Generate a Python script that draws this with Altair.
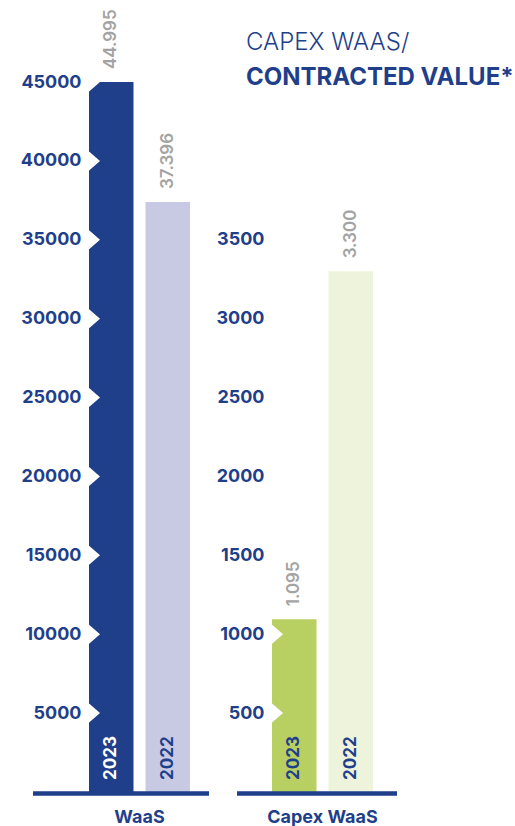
import altair as alt
import pandas as pd

# ---- data -------------------------------------------------------------
years = ["2023", "2022"]
waas_values = [44995, 37396]
capex_values = [1095, 3300]
waas_ticks = [5000, 10000, 15000, 20000, 25000, 30000, 35000, 40000, 45000]
capex_ticks = [500, 1000, 1500, 2000, 2500, 3000, 3500]
panel_titles = ["WaaS", "Capex WaaS"]
title_lines = ["CAPEX WAAS/", "CONTRACTED VALUE*"]

# ---- style ------------------------------------------------------------
NAVY = "#1f3f8b"
LAVENDER = "#c8cae4"
GREEN = "#b8cf62"
PALE_GREEN = "#eef3dc"
GRAY = "#a3a3a3"
FONT = "Inter"

W, H = 101, 710

ALL_KEYS = [f"{p} {y}" for p in panel_titles for y in years]
COLOR_SCALE = alt.Scale(domain=ALL_KEYS, range=[NAVY, LAVENDER, GREEN, PALE_GREEN])


def fmt(v):
    return f"{v:,}".replace(",", ".")


def panel(name, values, ticks, dmax, base_x1, base_x2, extra=None):
    df = pd.DataFrame({
        "year": years,
        "value": values,
        "key": [f"{name} {y}" for y in years],
        "label": [fmt(v) for v in values],
    })
    v23 = values[0]
    notch_df = pd.DataFrame({
        "year": "2023",
        "value": [t for t in ticks if t <= v23 + 0.012 * dmax],
    })
    xsc = alt.Scale(domain=years, paddingInner=0.2124, paddingOuter=0)
    ysc = alt.Scale(domain=[0, dmax], nice=False, zero=True)
    x = alt.X("year:N", scale=xsc, axis=None)

    bars = alt.Chart(df).mark_bar().encode(
        x=x,
        y=alt.Y("value:Q", scale=ysc, title=None,
                axis=alt.Axis(values=ticks, ticks=False, domain=False, grid=False,
                              labelColor=NAVY, labelFont=FONT, labelFontSize=18,
                              labelFontWeight="bold", labelPadding=8,
                              labelOverlap=False, format="d")),
        color=alt.Color("key:N", scale=COLOR_SCALE, legend=None),
    )
    notches = alt.Chart(notch_df).mark_point(
        shape="M-0.15,-1L1,0L-0.15,1Z", filled=True, color="white",
        opacity=1, size=484, strokeWidth=0,
    ).encode(
        x=alt.X("year:N", scale=xsc, axis=None, bandPosition=0),
        y=alt.Y("value:Q", scale=ysc, title=None),
    )
    vlabels = alt.Chart(df).mark_text(
        angle=270, align="left", baseline="middle", yOffset=-13,
        font=FONT, fontSize=17, fontWeight=600, color=GRAY,
    ).encode(x=x, y=alt.Y("value:Q", scale=ysc, title=None), text="label:N")
    ylabels = alt.Chart(df).mark_text(
        angle=270, align="left", baseline="middle", yOffset=-12,
        font=FONT, fontSize=17, fontWeight="bold",
    ).encode(
        x=x, y=alt.value(H), text="year:N",
        color=alt.condition("datum.key === 'WaaS 2023'",
                            alt.value("white"), alt.value(NAVY)),
    )
    base = alt.Chart(df).mark_rule(color=NAVY, strokeWidth=4, yOffset=1.5).encode(
        x=alt.value(base_x1), x2=alt.value(base_x2), y=alt.value(H)
    )
    ptitle = alt.Chart(pd.DataFrame({"t": [name]})).mark_text(
        align="center", baseline="alphabetic", font=FONT, fontSize=18,
        fontWeight="bold", color=NAVY,
    ).encode(x=alt.value(W / 2), y=alt.value(H + 31), text="t:N")
    layers = [bars, notches, vlabels, ylabels, base, ptitle]
    if extra:
        layers += extra
    return alt.layer(*layers).properties(width=W, height=H)


# invisible frame that pins the whole picture to 515 x 826
frame = alt.Chart(pd.DataFrame({"a": [0]})).mark_rect(opacity=0).encode(
    x=alt.value(-89), x2=alt.value(426), y=alt.value(-82), y2=alt.value(744)
)

title1 = alt.Chart(pd.DataFrame({"t": [title_lines[0]]})).mark_text(
    align="left", baseline="alphabetic", font=FONT, fontSize=24,
    fontWeight=300, color=NAVY,
).encode(x=alt.value(-26), y=alt.value(-32), text="t:N")
title2 = alt.Chart(pd.DataFrame({"t": [title_lines[1]]})).mark_text(
    align="left", baseline="alphabetic", font=FONT, fontSize=24,
    fontWeight="bold", color=NAVY,
).encode(x=alt.value(-26), y=alt.value(3), text="t:N")

left = panel(panel_titles[0], waas_values, waas_ticks, 45000, -56, 120,
             extra=[frame])
right = panel(panel_titles[1], capex_values, capex_ticks, 4500, -35, 125,
              extra=[title1, title2])

chart = alt.hconcat(left, right, spacing=82, bounds="flush").properties(
    padding=0
).configure_view(stroke=None)

chart.save("out.html", embed_options={"renderer": "svg", "actions": False})
